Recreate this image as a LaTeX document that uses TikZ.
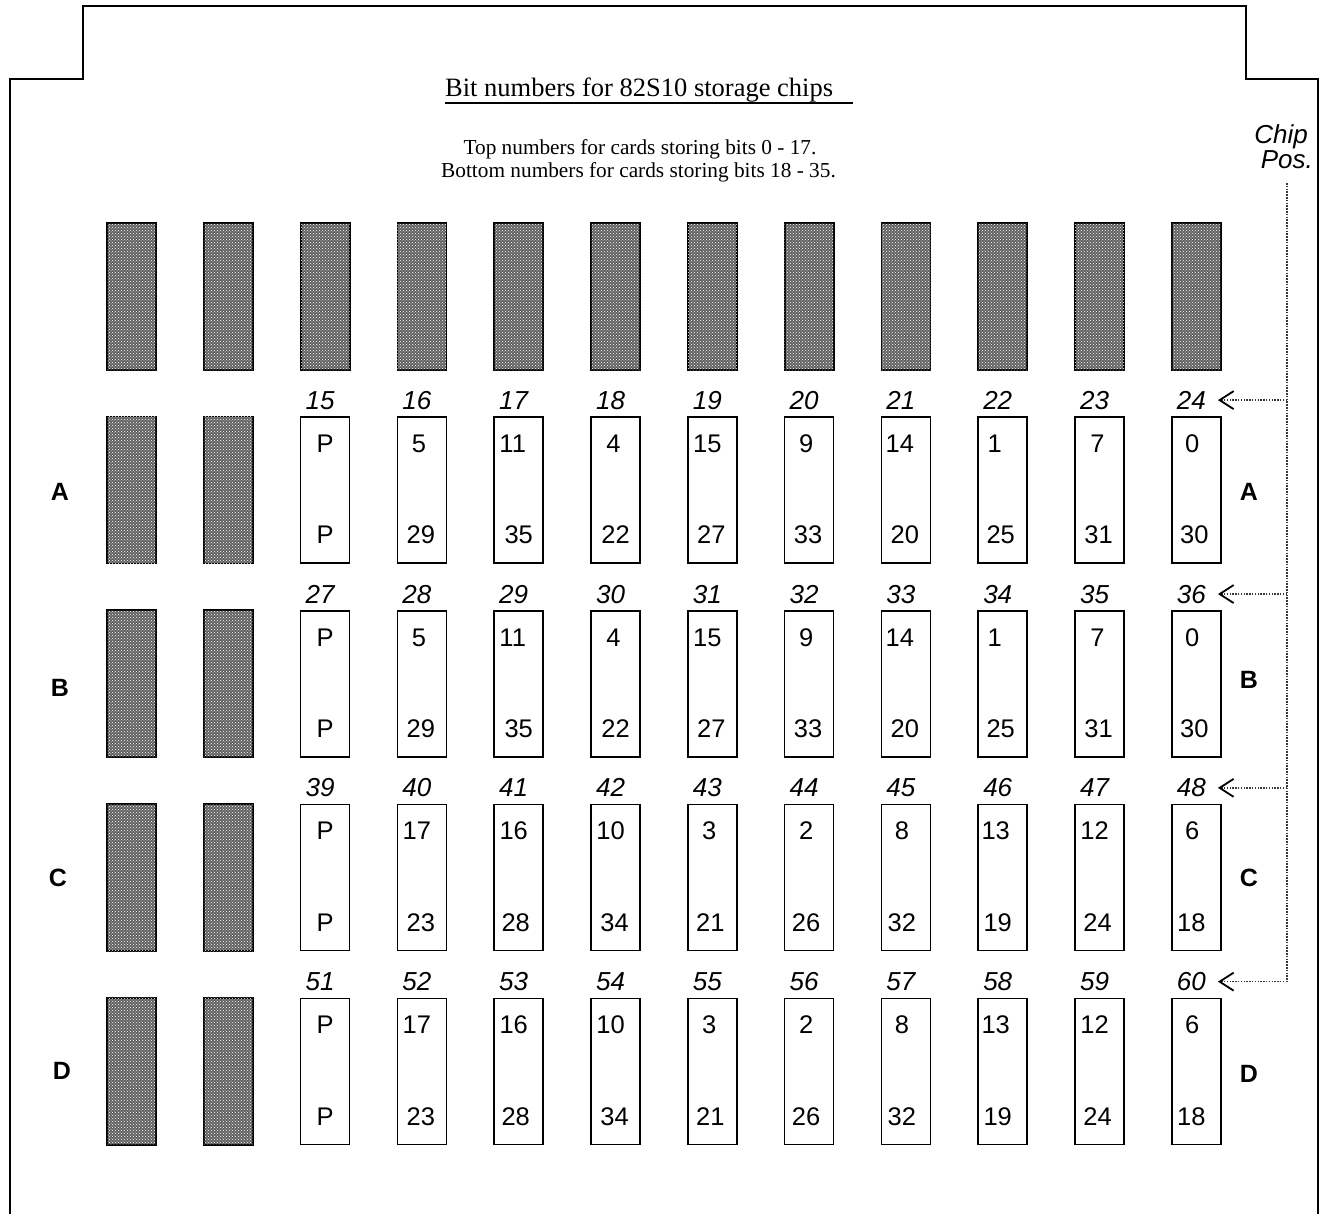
\documentclass[tikz,border=0pt]{standalone}
\usepackage{fontspec}
\setmainfont{Liberation Serif}
\setsansfont{Liberation Sans}
\usetikzlibrary{arrows.meta, positioning, calc, patterns}

\tikzset{
    board/.style={line width=2pt},
    deadchip/.style={draw, line width=1.8pt, fill=black!62,
        postaction={pattern=crosshatch dots, pattern color=white},
        minimum width=49pt, minimum height=147pt, inner sep=0pt},
    bitchip/.style={draw, line width=1.6pt, fill=white,
        minimum width=49pt, minimum height=146pt, inner sep=0pt},
    bitnum/.style={font=\sffamily\fontsize{25.5}{30}\selectfont, inner sep=0pt, anchor=base},
    posnum/.style={font=\sffamily\itshape\fontsize{26}{30}\selectfont, inner sep=0pt, anchor=base},
    rowname/.style={font=\sffamily\bfseries\fontsize{25}{30}\selectfont, inner sep=0pt},
    tapline/.style={line width=1.6pt, gray!45!black, dash pattern=on 1.5pt off 1.3pt},
}

\begin{document}
\begin{tikzpicture}[x=1pt, y=-1pt]
    \useasboundingbox (0,0) rectangle (1322,1213);

    % board outline
    \draw[board] (10,1215) -- (10,79) -- (83,79) -- (83,6) -- (1246,6)
        -- (1246,79) -- (1318,79) -- (1318,1215);

    % heading
    \node[font=\fontsize{26.5}{30}\selectfont, anchor=base west, inner sep=0pt]
        (title) at (445,96) {Bit numbers for 82S10 storage chips};
    \draw[line width=1.5pt] ([yshift=-7pt]title.base west) -- ++(408,0);
    \node[font=\fontsize{21.3}{23}\selectfont, anchor=base, inner sep=0pt]
        (note1) at (640,154) {Top numbers for cards storing bits 0 - 17.};
    \node[font=\fontsize{21.3}{23}\selectfont, anchor=base, inner sep=0pt]
        (note2) at (638.5,177) {Bottom numbers for cards storing bits 18 - 35.};

    % chip positions
    \node[posnum, anchor=base east] (chip) at (1308,143) {Chip};
    \node[posnum, anchor=base east] (pos) at (1313,168) {Pos.};

    % unused sockets, top row
    \foreach \c in {1,...,12}
        \node[deadchip] (top-\c) at ({131.5+96.8*(\c-1)}, 296.5) {};

    % rows A - D
    \foreach \r/\R in {0/A,1/B,2/C,3/D} {
        \foreach \c in {1,2}
            \node[deadchip] (\R-\c) at ({131.5+96.8*(\c-1)}, {490+193.8*\r}) {};
        \foreach \c in {3,...,12} {
            \node[bitchip] (\R-\c) at ({131.5+96.8*(\c-1)}, {490+193.8*\r}) {};
            \pgfmathtruncatemacro\p{12*\r+\c+12}
            \node[posnum] (pos-\R-\c) at ([xshift=-5pt, yshift=7pt]\R-\c.north) {\p};
        }
    }

    % bit numbers (top / bottom)
    \foreach \R in {A,B}
        \foreach \c/\t/\dt/\b/\db in {3/P/0/P/0, 4/5/-3/29/-1, 5/11/-6/35/0,
                6/4/-2/22/0, 7/15/-5/27/-1, 8/9/-3/33/-1, 9/14/-6/20/-1,
                10/1/-8/25/-2, 11/7/-2/31/-1, 12/0/-4/30/-2} {
            \node[bitnum] (\R-\c-hi) at ([xshift=\dt pt, yshift=-36pt]\R-\c.north) {\t};
            \node[bitnum] (\R-\c-lo) at ([xshift=\db pt, yshift=20pt]\R-\c.south) {\b};
        }
    \foreach \R in {C,D}
        \foreach \c/\t/\dt/\b/\db in {3/P/0/P/0, 4/17/-5/23/-1, 5/16/-5/28/-3,
                6/10/-5/34/-1, 7/3/-3/21/-2, 8/2/-3/26/-3, 9/8/-4/32/-4,
                10/13/-7/19/-5, 11/12/-5/24/-2, 12/6/-4/18/-5} {
            \node[bitnum] (\R-\c-hi) at ([xshift=\dt pt, yshift=-36pt]\R-\c.north) {\t};
            \node[bitnum] (\R-\c-lo) at ([xshift=\db pt, yshift=20pt]\R-\c.south) {\b};
        }

    % row letters
    \foreach \r/\R/\xl/\dl/\dr in {0/A/60/2/2, 1/B/60/4/-4, 2/C/58/0/0, 3/D/62/-1/2} {
        \node[rowname] (left-\R) at (\xl, {490+193.8*\r+\dl}) {\R};
        \node[rowname] (right-\R) at (1249, {490+193.8*\r+\dr}) {\R};
    }

    % dotted pointers
    \coordinate (tapTop) at (1287,183);
    \foreach \R in {A,B,C,D} {
        \coordinate (tap-\R) at (tapTop |- pos-\R-12);
        \draw[tapline, shorten >=12pt,
            -{Straight Barb[length=14pt, width=18pt, line width=1.8pt, color=black]}]
            (tap-\R) -- (pos-\R-12);
    }
    \draw[tapline] (tapTop) -- (tap-D);
\end{tikzpicture}
\end{document}
